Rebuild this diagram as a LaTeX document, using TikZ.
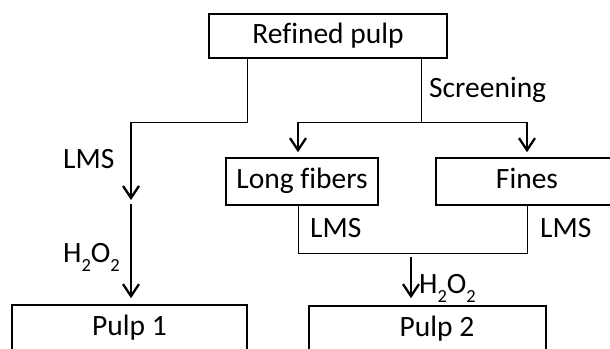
\documentclass[tikz,border=0pt]{standalone}
\usepackage{fontspec}
\setmainfont{Carlito}[Ligatures={NoCommon}]
\usetikzlibrary{arrows.meta}
\newcommand{\subtwo}{\raisebox{-9pt}{\fontsize{18.5}{18.5}\selectfont 2}}
\begin{document}
\begin{tikzpicture}[x=1pt,y=-1pt,
  box/.style={draw=black, line width=1.6pt, rectangle, inner sep=0pt,
    font=\fontsize{29.5}{35}\selectfont, text height=21pt, text depth=7pt},
  lbl/.style={anchor=base west, inner sep=0pt, font=\fontsize{29.5}{35}\selectfont},
  thin/.style={line width=1pt},
  arr/.style={line width=2.3pt, -{Straight Barb[length=12pt,width=16pt]}}
]
\useasboundingbox (0,0) rectangle (610,348);
\clip (0,0) rectangle (610,348);

% boxes
\node[box, minimum width=238pt, minimum height=44pt] (rp) at (328,36) {Refined pulp};
\node[box, minimum width=152pt, minimum height=47pt] (lf) at (302,181.5) {Long fibers};
\node[box, minimum width=182pt, minimum height=47pt] (fi) at (527,181.5) {Fines};
\node[box, minimum width=235pt, minimum height=46pt] (p1) at (129.5,328) {Pulp 1};
\node[box, minimum width=237pt, minimum height=46pt] (p2) at (427.5,329) {\hspace*{19pt}Pulp 2};

% helper coordinates
\coordinate (lc) at (131,122);
\coordinate (lmid) at (131,200);
\coordinate (lstart) at (131,204);
\coordinate (rc) at (421,122);
\coordinate (bl) at (298,253);
\coordinate (br) at (527,253);
\coordinate (h2top) at (411,257);

% left branch
\draw[thin] (rp.south -| 247,0) |- (lc);
\draw[arr] (lc) -- (lmid);
\draw[arr, shorten >=6pt] (lstart) -- (lstart |- p1.north);

% screening branch
\draw[thin] (rp.south -| rc) -- (rc);
\draw[thin] (298,122) -- (527,122);
\draw[arr, shorten >=5pt] (298,122) -- (lf.north -| 298,0);
\draw[arr, shorten >=5pt] (527,122) -- (fi.north -| 527,0);

% merge
\draw[thin] (lf.south -| bl) -- (bl) -- (br) -- (fi.south -| br);
\draw[arr, shorten >=7pt] (h2top) -- (h2top |- p2.north);

% labels
\node[lbl] (screen) at (429,97) {Screening};
\node[lbl] (lms1) at (63,168) {LMS};
\node[lbl] (h1) at (63,262) {H\subtwo O\subtwo};
\node[lbl] (lms2) at (310,237) {LMS};
\node[lbl] (lms3) at (540,237) {LMS};
\node[lbl] (h2) at (419,293) {H\subtwo O\subtwo};
\end{tikzpicture}
\end{document}
